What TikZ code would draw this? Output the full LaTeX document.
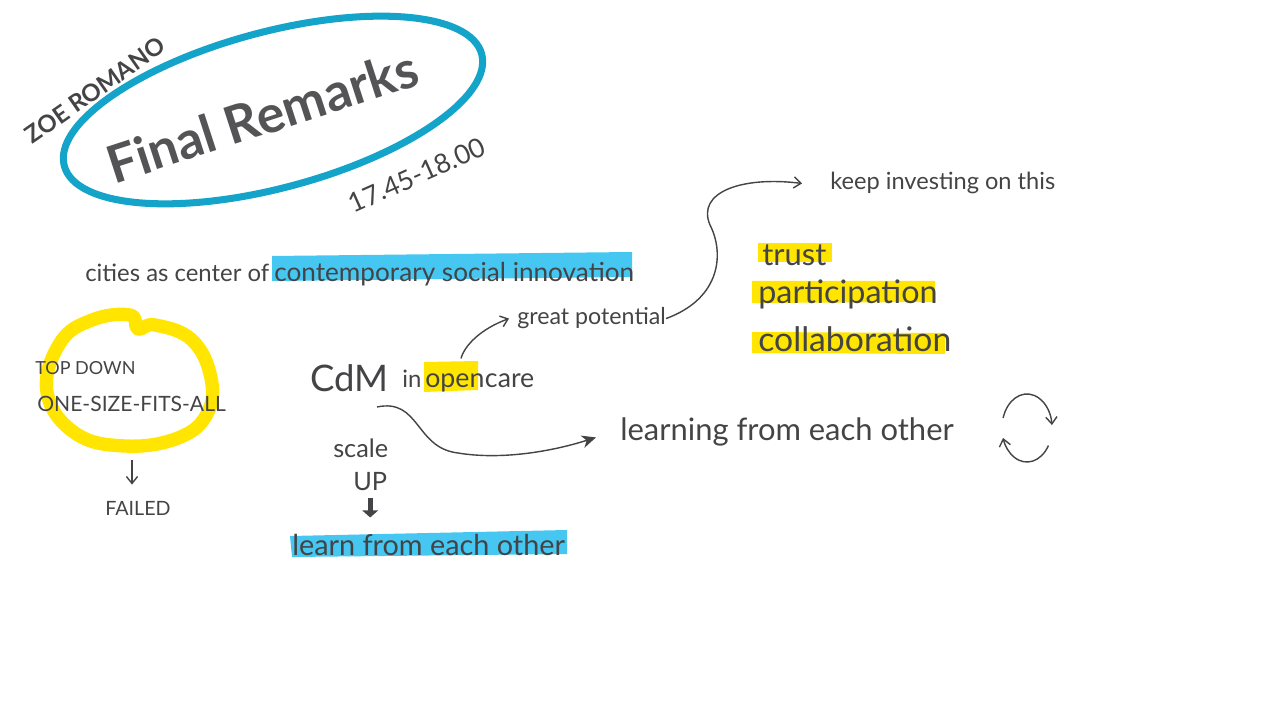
\documentclass[tikz,border=0pt]{standalone}
\usepackage{fontspec}
\setmainfont{Lato}
\usetikzlibrary{arrows.meta, positioning}
\definecolor{sketchgray}{HTML}{444446}
\definecolor{titlegray}{HTML}{545456}
\definecolor{ringblue}{HTML}{14A3C9}
\definecolor{hlblue}{HTML}{45C7F1}
\definecolor{hlyellow}{HTML}{FFE500}
\newcommand{\handsize}[1]{\fontsize{#1}{#1}\selectfont}

\begin{document}
\begin{tikzpicture}[
    x=0.025cm, y=0.025cm,
    hand/.style={anchor=base west, inner sep=0pt, text=sketchgray, font=#1},
    pen/.style={draw=sketchgray, line width=1pt, -{Straight Barb[length=5pt,width=8pt]}},
    wave/.style={draw=sketchgray, line width=1pt, -{Stealth[length=10pt,width=9pt,inset=3pt]}},
    fat/.style={draw=sketchgray, line width=3.5pt, -{Triangle[length=5pt,width=11pt]}},
    highlight/.style={fill=#1}
  ]
    \useasboundingbox (0,0) rectangle (1280,-720);

    % marker strokes first
    \fill[highlight=hlblue] (272,-256) -- (632,-252) -- (632,-277) -- (272,-281) -- cycle;
    \fill[highlight=hlblue] (290,-536) -- (567,-530) -- (567,-554) -- (292,-557) -- cycle;
    \fill[highlight=hlyellow] (424,-362) -- (478,-361) -- (478,-390) -- (424,-392) -- cycle;
    \fill[highlight=hlyellow] (758,-243) -- (832,-243) -- (832,-262) -- (758,-262) -- cycle;
    \fill[highlight=hlyellow] (752,-281) -- (935,-281) -- (935,-302) -- (752,-303) -- cycle;
    \fill[highlight=hlyellow] (752,-332) -- (945,-333) -- (945,-354) -- (752,-353) -- cycle;
    \draw[hlyellow, line width=9.5pt, line join=round] plot[smooth cycle, tension=0.7] coordinates {
      (47,-392) (60,-343) (92,-320) (130,-315) (138,-329) (155,-325) (192,-340) (211,-378)
      (207,-414) (178,-438) (125,-446) (75,-433)};

    % title
    \draw[ringblue, line width=5pt] (273,-110) ellipse [x radius=5.4cm, y radius=1.95cm, rotate=15];
    \node[text=titlegray, font=\bfseries\handsize{37}, rotate=18] (title) at (262,-116) {Final Remarks};
    \node[text=sketchgray, font=\bfseries\handsize{17}, rotate=35] (speaker) at (95,-90) {ZOE ROMANO};
    \node[text=sketchgray, font=\handsize{19}, rotate=24] (time) at (417,-175) {17.45-18.00};

    % texts
    \node[hand=\handsize{17}] (cities) at (85,-282) {cities as center of};
    \node[hand=\handsize{18.6}] (innovation) at (274,-282) {contemporary social innovation};
    \node[hand=\handsize{12.8}] (topdown) at (35,-375) {TOP DOWN};
    \node[hand=\handsize{15}] (onesize) at (37,-412) {ONE-SIZE-FITS-ALL};
    \node[hand=\handsize{14}] (failed) at (105,-515) {FAILED};
    \node[hand=\handsize{26}] (cdm) at (310,-392) {CdM};
    \node[hand=\handsize{17}] (in) at (402,-388) {in};
    \node[hand=\handsize{19}] (open) at (425,-388) {open};
    \node[hand=\handsize{19}, base right=0pt of open] (care) {care};
    \node[hand=\handsize{16.5}] (potential) at (517,-325) {great potential};
    \node[hand=\handsize{16.8}] (keep) at (830,-190) {keep investing on this};
    \node[hand=\handsize{22}] (trust) at (762,-266) {trust};
    \node[hand=\handsize{23}] (particip) at (758,-304) {participation};
    \node[hand=\handsize{24}] (collab) at (758,-352) {collaboration};
    \node[hand=\handsize{22}] (learning) at (620,-440) {learning from each other};
    \node[hand=\handsize{18}] (scale) at (333,-457) {scale};
    \node[hand=\handsize{18}] (up) at (353,-490) {UP};
    \node[hand=\handsize{20.5}] (learn) at (292,-555) {learn from each other};

    % arrows
    \coordinate (failtop) at (132,-460);
    \draw[pen, shorten >=0.4cm] (failtop) -- (failtop |- failed.north);
    \draw[pen, shorten <=0.4cm] ([xshift=0.05cm]open.north) to[out=75, in=200] ([xshift=-0.2cm]potential.west);
    \draw[pen] (potential.east) .. controls (722,-298) and (724,-252) .. (710,-225)
      .. controls (696,-192) and (742,-176) .. ([xshift=-0.7cm]keep.west);
    \coordinate (cdmtail) at (377,-407);
    \draw[wave] (cdmtail) .. controls (420,-398) and (415,-448) .. (458,-453)
      .. controls (500,-460) and (550,-452) .. ([xshift=-0.6cm,yshift=-0.15cm]learning.west);
    \draw[fat, shorten <=0.18cm, shorten >=0.4cm] (up.south) -- (up.south |- learn.north);

    % cycle
    \coordinate (cyc) at (1027,-428);
    \draw[pen] ([shift={(163:0.625cm and 0.85cm)}]cyc) arc[start angle=163, end angle=5, x radius=0.625cm, y radius=0.85cm];
    \draw[pen] ([shift={(-31:0.625cm and 0.85cm)}]cyc) arc[start angle=-31, end angle=-163, x radius=0.625cm, y radius=0.85cm];
  \end{tikzpicture}
\end{document}
